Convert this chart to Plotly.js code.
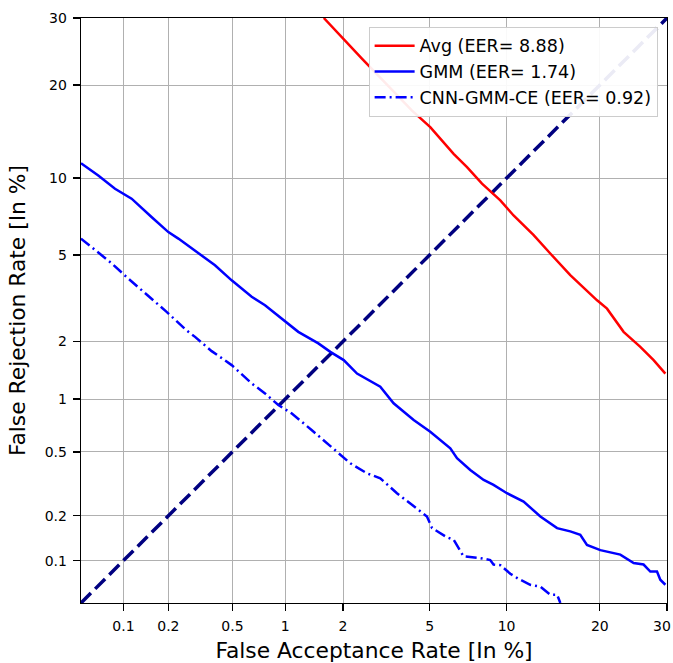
<!DOCTYPE html>
<html>
<head>
<meta charset="utf-8">
<script src="https://cdn.plot.ly/plotly-3.0.1.min.js"></script>
<style>html,body{margin:0;padding:0;background:#fff;}#chart{width:673px;height:663px;}</style>
</head>
<body>
<div id="chart"></div>
<script>
// Values in percent
const avgFAR = [1.60, 2.48, 4.20, 5.03, 6.28, 7.10, 8.11, 9.49, 10.59, 12.43, 14.11, 16.33, 19.64, 20.97, 23.29, 25.77, 27.84, 29.73];
const avgFRR = [30.0, 23.64, 16.80, 14.90, 12.17, 10.94, 9.55, 8.28, 7.24, 6.04, 5.07, 4.09, 3.15, 2.88, 2.23, 1.88, 1.61, 1.37];

const gmmFAR = [0.05, 0.0666, 0.0874, 0.1138, 0.155, 0.200, 0.232, 0.310, 0.393, 0.495, 0.648, 0.772, 1.00, 1.176, 1.50, 1.727, 2.016, 2.343, 3.02, 3.477, 4.27, 5.03, 6.09, 6.48, 7.31, 8.23, 8.96, 10.03, 11.48, 13.09, 14.84, 16.33, 17.52, 18.35, 20.07, 22.82, 24.77, 26.27, 27.32, 28.38, 28.91, 29.73];
const gmmFRR = [11.30, 10.22, 9.15, 8.40, 7.14, 6.22, 5.85, 5.07, 4.52, 3.88, 3.27, 2.99, 2.49, 2.23, 1.955, 1.773, 1.61, 1.37, 1.166, 0.948, 0.765, 0.656, 0.525, 0.458, 0.389, 0.338, 0.315, 0.279, 0.247, 0.198, 0.166, 0.158, 0.150, 0.128, 0.118, 0.110, 0.0962, 0.094, 0.084, 0.084, 0.0735, 0.0677];

const cnnFAR = [0.05, 0.0827, 0.108, 0.143, 0.194, 0.261, 0.296, 0.375, 0.495, 0.648, 0.772, 0.916, 1.082, 1.383, 1.767, 2.173, 2.616, 3.02, 3.60, 4.27, 4.87, 5.12, 5.91, 6.28, 6.88, 7.99, 8.71, 8.96, 9.49, 10.31, 11.0, 12.10, 13.09, 14.11, 14.84, 15.20];
const cnnFRR = [5.85, 4.61, 3.95, 3.36, 2.79, 2.27, 2.107, 1.788, 1.517, 1.216, 1.074, 0.928, 0.834, 0.671, 0.527, 0.427, 0.371, 0.346, 0.279, 0.230, 0.198, 0.166, 0.144, 0.139, 0.107, 0.104, 0.101, 0.094, 0.093, 0.081, 0.0747, 0.0677, 0.0656, 0.0575, 0.0575, 0.05];

const diagPct = [0.05, 30];
const tickPct = [0.1, 0.2, 0.5, 1, 2, 5, 10, 20, 30];
const tickLabels = ['0.1', '0.2', '0.5', '1', '2', '5', '10', '20', '30'];
const axisLimitsPct = [0.05, 30];

const names = ['Avg (EER= 8.88)', 'GMM (EER= 1.74)', 'CNN-GMM-CE (EER= 0.92)'];

// inverse normal CDF (Acklam)
function norminv(p) {
  const a = [-3.969683028665376e+01, 2.209460984245205e+02, -2.759285104469687e+02, 1.383577518672690e+02, -3.066479806614716e+01, 2.506628277459239e+00];
  const b = [-5.447609879822406e+01, 1.615858368580409e+02, -1.556989798598866e+02, 6.680131188771972e+01, -1.328068155288572e+01];
  const c = [-7.784894002430293e-03, -3.223964580411365e-01, -2.400758277161838e+00, -2.549732539343734e+00, 4.374664141464968e+00, 2.938163982698783e+00];
  const d = [7.784695709041462e-03, 3.224671290700398e-01, 2.445134137142996e+00, 3.754408661907416e+00];
  const pl = 0.02425, ph = 1 - pl;
  let q, r;
  if (p < pl) {
    q = Math.sqrt(-2 * Math.log(p));
    return (((((c[0]*q+c[1])*q+c[2])*q+c[3])*q+c[4])*q+c[5]) / ((((d[0]*q+d[1])*q+d[2])*q+d[3])*q+1);
  } else if (p <= ph) {
    q = p - 0.5; r = q*q;
    return (((((a[0]*r+a[1])*r+a[2])*r+a[3])*r+a[4])*r+a[5])*q / (((((b[0]*r+b[1])*r+b[2])*r+b[3])*r+b[4])*r+1);
  } else {
    q = Math.sqrt(-2 * Math.log(1 - p));
    return -(((((c[0]*q+c[1])*q+c[2])*q+c[3])*q+c[4])*q+c[5]) / ((((d[0]*q+d[1])*q+d[2])*q+d[3])*q+1);
  }
}
const pr = arr => arr.map(v => norminv(v / 100));

const font = 'DejaVu Sans, sans-serif';

const traces = [
  {x: pr(diagPct), y: pr(diagPct), mode: 'lines', showlegend: false, hoverinfo: 'skip', line: {color: '#000080', width: 3.5, dash: '14px,6px'}},
  {x: pr(avgFAR), y: pr(avgFRR), mode: 'lines', name: names[0], line: {color: '#ff0000', width: 2.5}},
  {x: pr(gmmFAR), y: pr(gmmFRR), mode: 'lines', name: names[1], line: {color: '#0000ff', width: 2.5}},
  {x: pr(cnnFAR), y: pr(cnnFRR), mode: 'lines', name: names[2], line: {color: '#0000ff', width: 2.5, dash: '11px,4px,2px,4px'}}
];

const axisCommon = {
  range: pr(axisLimitsPct),
  tickmode: 'array',
  tickvals: pr(tickPct),
  showgrid: true,
  gridcolor: '#b0b0b0',
  gridwidth: 1,
  zeroline: false,
  showline: true,
  linecolor: '#000',
  linewidth: 1.3,
  mirror: true,
  ticks: 'outside',
  ticklen: 7,
  tickwidth: 1.3,
  tickcolor: '#000',
  ticklabelstandoff: 3,
  tickfont: {family: font, size: 14, color: '#000'}
};

// last x label is placed as a right-aligned annotation so it stays inside the page
const xTickText = tickLabels.map((t, i) => i === tickLabels.length - 1 ? '' : t);

const layout = {
  width: 673,
  height: 663,
  margin: {l: 81, r: 6, t: 18, b: 60},
  paper_bgcolor: '#fff',
  plot_bgcolor: '#fff',
  font: {family: font, color: '#000'},
  xaxis: Object.assign({}, axisCommon, {ticktext: xTickText, title: {text: 'False Acceptance Rate [In %]', font: {family: font, size: 21.8}, standoff: 11}}),
  yaxis: Object.assign({}, axisCommon, {ticktext: tickLabels, title: {text: 'False Rejection Rate [In %]', font: {family: font, size: 21.8}, standoff: 13}}),
  annotations: [{
    text: tickLabels[tickLabels.length - 1], xref: 'paper', yref: 'paper', x: 1.0105, y: 0,
    xanchor: 'right', yanchor: 'top', yshift: -13, showarrow: false,
    font: {family: font, size: 14, color: '#000'}
  }],
  legend: {
    x: 0.984, y: 0.985, xanchor: 'right', yanchor: 'top',
    bgcolor: 'rgba(255,255,255,0.92)', bordercolor: '#cccccc', borderwidth: 1,
    font: {family: font, size: 17.5, color: '#000'},
    itemwidth: 40,
    tracegroupgap: 0
  },
  showlegend: true
};

Plotly.newPlot('chart', traces, layout, {displayModeBar: false, staticPlot: true});
</script>
</body>
</html>
